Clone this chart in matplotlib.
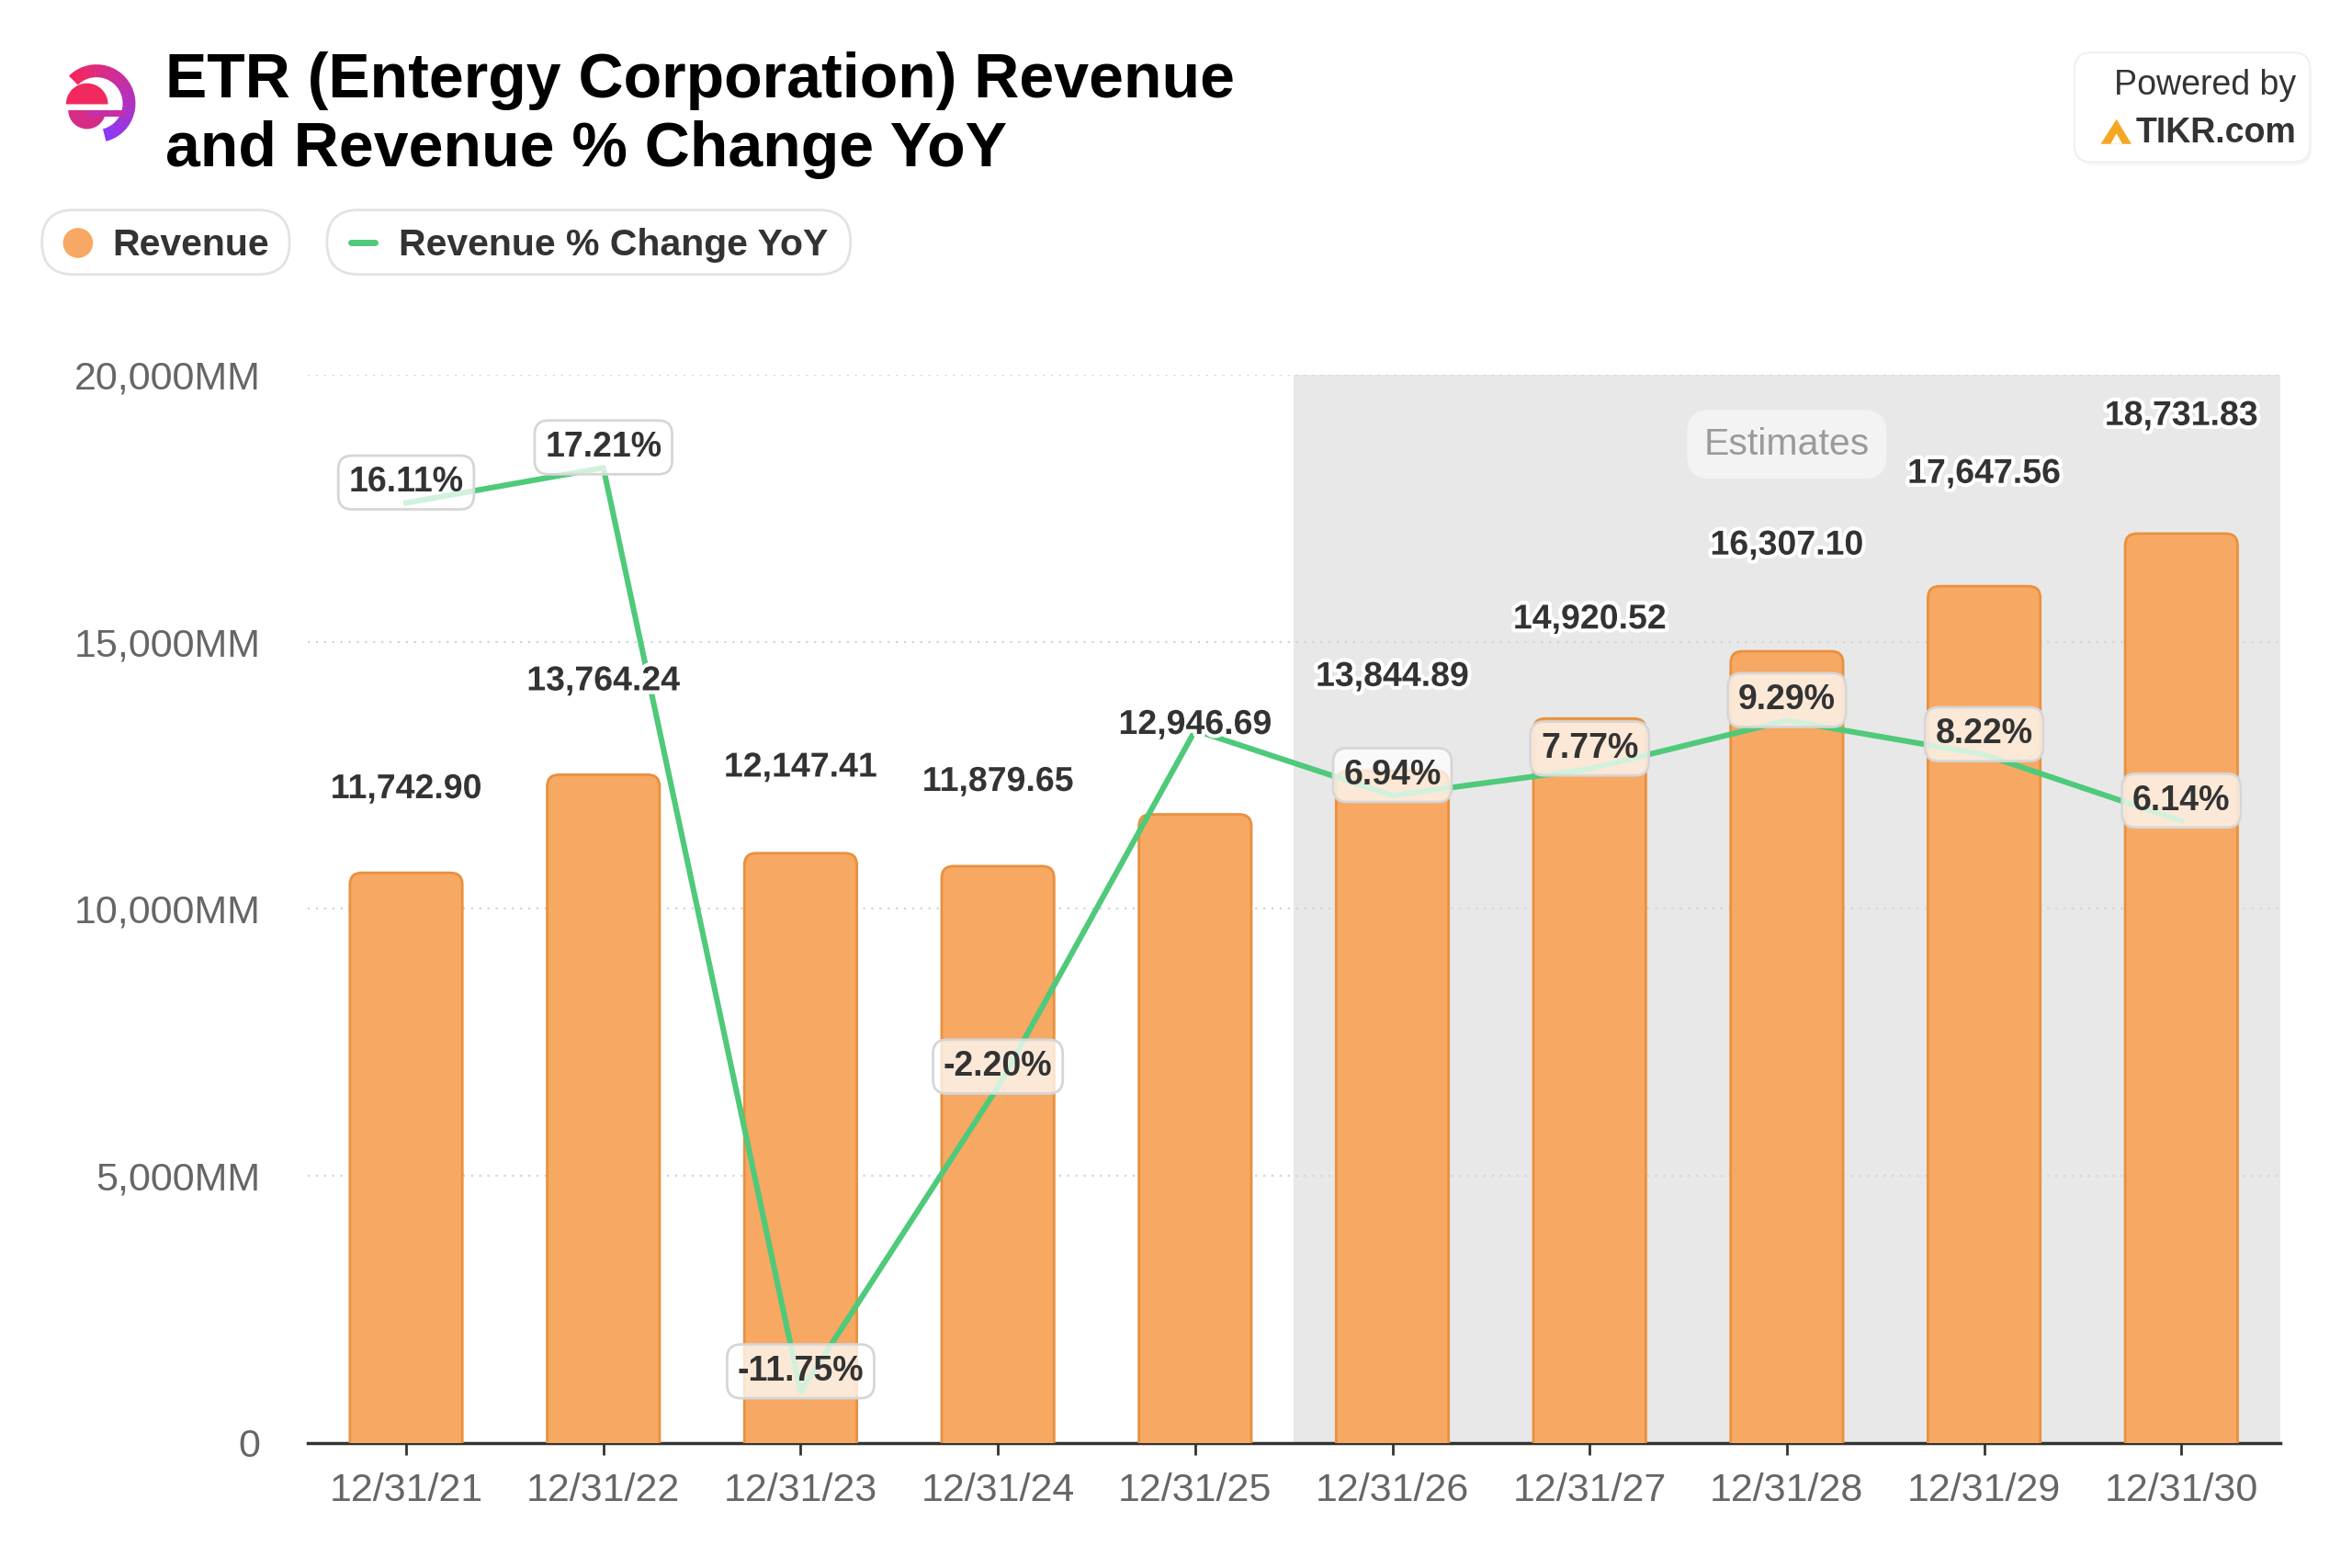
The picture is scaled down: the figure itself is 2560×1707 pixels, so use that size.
import matplotlib
matplotlib.use('Agg')
import matplotlib.pyplot as plt
from matplotlib.patches import FancyBboxPatch, Circle, Wedge, Polygon, Rectangle
import matplotlib.patheffects as pe

plt.rcParams['font.family'] = ['Liberation Sans', 'DejaVu Sans']

# data
dates = ['12/31/21', '12/31/22', '12/31/23', '12/31/24', '12/31/25',
         '12/31/26', '12/31/27', '12/31/28', '12/31/29', '12/31/30']
revenue = [11742.90, 13764.24, 12147.41, 11879.65, 12946.69,
           13844.89, 14920.52, 16307.10, 17647.56, 18731.83]
rev_pct = [16.11, 17.21, -11.75, -2.20, 8.98, 6.94, 7.77, 9.29, 8.22, 6.14]
show_pct = [True, True, True, True, False, True, True, True, True, True]
yticks = [0, 5000, 10000, 15000, 20000]
ytick_labels = ['0', '5,000MM', '10,000MM', '15,000MM', '20,000MM']
first_estimate = 5

bar_color = '#f7a862'
bar_edge = '#e8913f'
line_color = '#4fc97a'
text_dark = '#333333'
tick_gray = '#666666'

W, H = 1568, 1045.5  # layout canvas (scaled to 2560x1707)

fig = plt.figure(figsize=(25.6, 17.07), dpi=100)

# main axes (value scale used for ticks and value labels)
ax = fig.add_axes([205 / W, 1 - 962 / H, 1315 / W, 712 / H])
ax.set_xlim(-0.5, len(dates) - 0.5)
ax.set_ylim(0, 20000)
ax.axvspan(first_estimate - 0.5, len(dates) - 0.5, color='#e8e8e8', zorder=0, lw=0)
for v in yticks[1:]:
    ax.axhline(v, color='#d4d4d4', lw=1.6, ls=(0, (1, 3)), zorder=0.5)
ax.set_yticks(yticks)
ax.set_yticklabels(ytick_labels)
ax.set_xticks(range(len(dates)))
ax.set_xticklabels(dates)
ax.tick_params(axis='y', length=0, pad=37, labelsize=31, labelcolor=tick_gray)
ax.tick_params(axis='x', length=9, width=2, color=text_dark, pad=14,
               labelsize=31, labelcolor=tick_gray)
for s in ['top', 'right', 'left']:
    ax.spines[s].set_visible(False)
ax.spines['bottom'].set_color(text_dark)
ax.spines['bottom'].set_linewidth(2.5)
ax.spines['bottom'].set_zorder(5)

ax.text(7, 18700, 'Estimates', ha='center', va='center', fontsize=29.5,
        color='#9a9a9a', zorder=1,
        bbox=dict(boxstyle='round,pad=0.45,rounding_size=0.6', fc='#f3f3f3', ec='none'))

# bars on their own scale
axb = ax.twinx()
axb.set_ylim(0, 22000)
axb.axis('off')
axb.set_zorder(2)
bw = 0.57
for i, r in enumerate(revenue):
    p = FancyBboxPatch((i - bw / 2, -600), bw, r + 600,
                       boxstyle='round,pad=0,rounding_size=0.06',
                       mutation_aspect=4065, fc=bar_color, ec=bar_edge, lw=2)
    axb.add_patch(p)

# % change line
axp = ax.twinx()
axp.set_ylim(-13.35, 20.12)
axp.axis('off')
axp.set_zorder(3)
axp.plot(range(len(dates)), rev_pct, color=line_color, lw=4.4, zorder=3,
         solid_joinstyle='round')

for i, r in enumerate(revenue):
    axp.annotate(f'{r:,.2f}', xy=(i, r), xycoords=ax.transData,
                 xytext=(0, 21), textcoords='offset points', ha='center', va='center',
                 fontsize=27, fontweight='bold', color=text_dark, zorder=4,
                 path_effects=[pe.withStroke(linewidth=6, foreground='white')])

for i, v in enumerate(rev_pct):
    if not show_pct[i]:
        continue
    axp.annotate(f'{v:.2f}%', xy=(i, v), xytext=(0, 16), textcoords='offset points',
                 ha='center', va='center', fontsize=27, fontweight='bold',
                 color=text_dark, zorder=5,
                 bbox=dict(boxstyle='round,pad=0.3,rounding_size=0.4',
                           fc=(1, 1, 1, 0.75), ec='#d6d6d6', lw=2))

# overlay for header, legend, branding
ov = fig.add_axes([0, 0, 1, 1], zorder=10)
ov.set_xlim(0, W)
ov.set_ylim(H, 0)
ov.axis('off')
ov.patch.set_visible(False)

# logo
cx, cy = 64.3, 69
n = 30
t1, t2 = -135, 75
for k in range(n):
    t = k / (n - 1)
    c = (0.96 - 0.42 * t, 0.15 + 0.07 * t, 0.36 + 0.61 * t)
    a0 = t1 + k * (t2 - t1) / n
    ov.add_patch(Wedge((cx, cy), 26, a0, a0 + (t2 - t1) / n + 0.8, width=8.5,
                       fc=c, ec='none'))
ov.add_patch(Wedge((58, 69.5), 14, 180, 360, fc='#f2295e', ec='none'))
ov.add_patch(Wedge((58, 73.5), 12.5, 0, 180, fc='#d62c86', ec='none'))
ov.add_patch(Rectangle((58, 73.5), 25, 4.5, fc='#c72ea6', ec='none'))

ov.text(110, 65, 'ETR (Entergy Corporation) Revenue', fontsize=49, fontweight='bold',
        color='black', va='baseline', ha='left')
ov.text(110, 111, 'and Revenue % Change YoY', fontsize=49, fontweight='bold',
        color='black', va='baseline', ha='left')

# legend pills
ov.add_patch(FancyBboxPatch((28, 140), 165, 43, boxstyle='round,pad=0,rounding_size=21',
                            fc='white', ec='#e3e3e3', lw=2))
ov.add_patch(Circle((52, 162), 10, fc=bar_color, ec='none'))
ov.text(75, 163.5, 'Revenue', fontsize=29.5, fontweight='bold', color=text_dark,
        va='center', ha='left')
ov.add_patch(FancyBboxPatch((218, 140), 349, 43, boxstyle='round,pad=0,rounding_size=21',
                            fc='white', ec='#e3e3e3', lw=2))
ov.plot([234, 250], [162, 162], color=line_color, lw=5, solid_capstyle='round')
ov.text(266, 163.5, 'Revenue % Change YoY', fontsize=29.5, fontweight='bold',
        color=text_dark, va='center', ha='left')

# powered by box
ov.add_patch(FancyBboxPatch((1385, 38), 156, 72, boxstyle='round,pad=0,rounding_size=11',
                            fc='#ececec', ec='none', alpha=0.5))
ov.add_patch(FancyBboxPatch((1383, 35), 157, 73, boxstyle='round,pad=0,rounding_size=11',
                            fc='white', ec='#f0f0f0', lw=1.5))
ov.text(1531, 57, 'Powered by', fontsize=27, color=text_dark, va='center', ha='right')
ov.text(1531, 89, 'TIKR.com', fontsize=27, fontweight='bold', color=text_dark,
        va='center', ha='right')
ov.add_patch(Polygon([[1400.5, 96], [1411, 79.5], [1421, 96]], closed=True,
                     fc='#f5a623', ec='none'))
ov.add_patch(Polygon([[1407, 96], [1411, 89], [1415, 96]], closed=True,
                     fc='white', ec='none'))

fig.savefig('out.png', dpi=100, facecolor='white')
